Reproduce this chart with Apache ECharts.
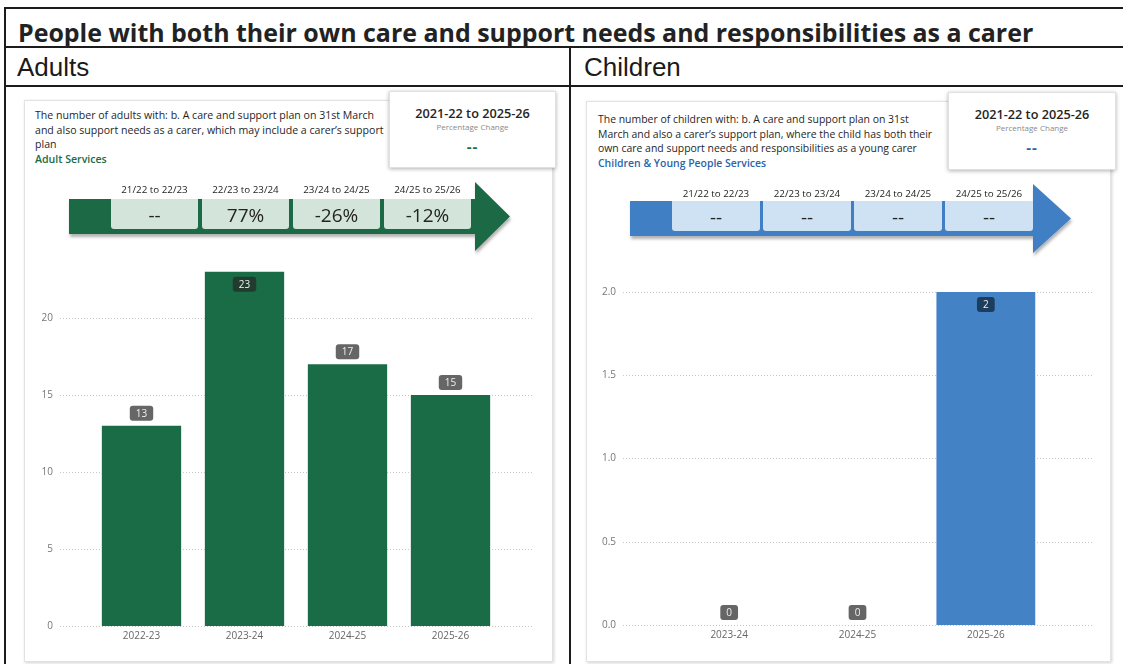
<!DOCTYPE html>
<html>
<head>
<meta charset="utf-8">
<script src="https://cdn.jsdelivr.net/npm/echarts@6/dist/echarts.min.js"></script>
<style>
  html, body { margin: 0; padding: 0; background: #fff; width: 1123px; height: 664px; overflow: hidden; }
  body { position: relative; font-family: 'Open Sans', 'Noto Sans', sans-serif; color: #252423; }
  .rule { position: absolute; background: #1c1c1c; }
  .title { position: absolute; left: 18px; top: 15px; font-weight: 700; font-size: 20px; white-space: nowrap; color: #222; font-family: 'Open Sans', sans-serif; }
  .colhead { position: absolute; top: 52px; font-family: 'Liberation Sans', Arial, sans-serif; font-size: 26px; color: #1a1a1a; white-space: nowrap; }
  .card { position: absolute; background: #fff; border: 1px solid #e2e2e2; box-shadow: 1px 1px 3px rgba(0,0,0,0.18); box-sizing: border-box; }
  .kpi { position: absolute; background: #fff; border: 1px solid #e0e0e0; box-shadow: 0 1px 4px rgba(0,0,0,0.3); box-sizing: border-box; text-align: center; }
  .kpi .k1 { position: absolute; left: 0; right: 0; top: 12px; font-size: 12.7px; font-weight: 600; color: #252423; }
  .kpi .k2 { position: absolute; left: 0; right: 0; top: 29px; font-size: 8px; color: #8a8a8a; }
  .kpi .k3 { position: absolute; left: 0; right: 0; top: 44px; font-size: 15px; font-weight: 700; letter-spacing: 1px; }
  .desc { position: absolute; font-size: 9.5px; line-height: 14.5px; color: #1f1f1f; white-space: nowrap; }
  .desc span { display: inline-block; }
  .desc .svc { font-weight: 600; }
  .chart { position: absolute; }
  svg.overlay { position: absolute; left: 0; top: 0; }
</style>
</head>
<body>

<div class="rule" style="left:4px; top:7px; width:1119px; height:2px;"></div>
<div class="rule" style="left:4px; top:46px; width:1119px; height:2px;"></div>
<div class="rule" style="left:4px; top:85px; width:1119px; height:2px;"></div>
<div class="rule" style="left:4px; top:7px; width:2px; height:657px;"></div>
<div class="rule" style="left:569px; top:46px; width:2px; height:618px;"></div>

<div class="title" id="title">People with both their own care and support needs and responsibilities as a carer</div>
<div class="colhead" style="left:17px;">Adults</div>
<div class="colhead" style="left:584px;">Children</div>

<div class="card" style="left:24px; top:100px; width:529px; height:562px;"></div>
<div class="card" style="left:586px; top:101px; width:525px; height:561px;"></div>

<div class="desc" id="descAdult" style="left:35px; top:108px;">
  <span>The number of adults with: b. A care and support plan on 31st March</span><br>
  <span>and also support needs as a carer, which may include a carer’s support</span><br>
  <span>plan</span><br>
  <span class="svc" style="color:#1b6b45;">Adult Services</span>
</div>
<div class="desc" id="descChild" style="left:598px; top:112px;">
  <span>The number of children with: b. A care and support plan on 31st</span><br>
  <span>March and also a carer’s support plan, where the child has both their</span><br>
  <span>own care and support needs and responsibilities as a young carer</span><br>
  <span class="svc" style="color:#2b62a8;">Children &amp; Young People Services</span>
</div>

<div class="kpi" style="left:389px; top:91px; width:167px; height:77px;">
  <div class="k1">2021-22 to 2025-26</div>
  <div class="k2">Percentage Change</div>
  <div class="k3" id="kpiAdult" style="color:#1b6b45;"></div>
</div>
<div class="kpi" style="left:948px; top:92px; width:168px; height:78px;">
  <div class="k1">2021-22 to 2025-26</div>
  <div class="k2">Percentage Change</div>
  <div class="k3" id="kpiChild" style="color:#2b62a8;"></div>
</div>

<div class="chart" id="chartAdult" style="left:24px; top:236px; width:528px; height:426px;"></div>
<div class="chart" id="chartChild" style="left:586px; top:280px; width:524px; height:382px;"></div>

<svg class="overlay" id="arrows" width="1123" height="664" xmlns="http://www.w3.org/2000/svg">
  <defs>
    <filter id="shadow" x="-5%" y="-20%" width="115%" height="160%">
      <feDropShadow dx="1" dy="3" stdDeviation="1.6" flood-color="#000" flood-opacity="0.3"/>
    </filter>
  </defs>
</svg>

<script>
// ---- data ----
const periodLabels = ['21/22 to 22/23', '22/23 to 23/24', '23/24 to 24/25', '24/25 to 25/26'];
const adultChanges = ['--', '77%', '-26%', '-12%'];
const childChanges = ['--', '--', '--', '--'];
const adultOverallChange = '--';
const childOverallChange = '--';

const adultCategories = ['2022-23', '2023-24', '2024-25', '2025-26'];
const adultValues = [13, 23, 17, 15];

const childCategories = ['2023-24', '2024-25', '2025-26'];
const childValues = [0, 0, 2];

// ---- KPI cards ----
document.getElementById('kpiAdult').textContent = adultOverallChange;
document.getElementById('kpiChild').textContent = childOverallChange;

// ---- period-on-period arrows ----
const SVGNS = 'http://www.w3.org/2000/svg';
function el(tag, attrs, parent) {
  const n = document.createElementNS(SVGNS, tag);
  for (const k in attrs) n.setAttribute(k, attrs[k]);
  parent.appendChild(n);
  return n;
}
function drawArrow(g, labels, values) {
  const svg = document.getElementById('arrows');
  const grp = el('g', {}, svg);
  const shape = [
    [g.x0, g.yTop], [g.bodyEnd, g.yTop], [g.bodyEnd, g.headTop], [g.tipX, g.tipY],
    [g.bodyEnd, g.headBot], [g.bodyEnd, g.yBot], [g.x0, g.yBot]
  ].map(p => p.join(',')).join(' ');
  el('polygon', { points: shape, fill: g.color, filter: 'url(#shadow)' }, grp);
  labels.forEach((lab, i) => {
    const x = g.firstBox + i * g.step;
    const r = 3, w = g.boxW, h = g.boxH, y = g.yTop;
    const d = `M${x},${y} H${x + w} V${y + h - r} Q${x + w},${y + h} ${x + w - r},${y + h} H${x + r} Q${x},${y + h} ${x},${y + h - r} Z`;
    el('path', { d: d, fill: g.boxFill }, grp);
    const t1 = el('text', { x: x + w / 2, y: g.labelY, 'text-anchor': 'middle', 'dominant-baseline': 'central',
      'font-size': 9.8, fill: '#252423', 'font-family': "'Open Sans', sans-serif" }, grp);
    t1.textContent = lab;
    const t2 = el('text', { x: x + w / 2, y: y + h / 2 + 1, 'text-anchor': 'middle', 'dominant-baseline': 'central',
      'font-size': 19, fill: '#252423', 'font-family': "'Open Sans', sans-serif" }, grp);
    t2.textContent = values[i];
  });
}
drawArrow({ x0: 69, bodyEnd: 475, yTop: 199, yBot: 234, headTop: 182, headBot: 251, tipX: 510, tipY: 216.5,
  firstBox: 111, step: 91, boxW: 87, boxH: 30, labelY: 189, color: '#1b6b45', boxFill: '#d3e4da' },
  periodLabels, adultChanges);
drawArrow({ x0: 630, bodyEnd: 1033, yTop: 201, yBot: 236, headTop: 184, headBot: 253, tipX: 1071, tipY: 218.5,
  firstBox: 672, step: 91, boxW: 88, boxH: 30, labelY: 193, color: '#3f7fc4', boxFill: '#cfe2f3' },
  periodLabels, childChanges);

// ---- bar charts ----
const FONT = "'Segoe UI', 'Open Sans', sans-serif";
function barOption(cfg) {
  const data = cfg.values.map(v => {
    // labels that would run past the top of the plot sit inside the bar instead
    const inside = v > cfg.yMax - cfg.headroom;
    return {
      value: v,
      label: inside
        ? { position: 'insideTop', backgroundColor: cfg.insideLabelBg }
        : { position: 'top' }
    };
  });
  return {
    animation: false,
    grid: [
      { left: cfg.wide[0], right: cfg.wide[1], top: cfg.top, bottom: cfg.bottom },
      { left: cfg.bars[0], right: cfg.bars[1], top: cfg.top, bottom: cfg.bottom }
    ],
    xAxis: [
      { gridIndex: 0, type: 'category', data: cfg.categories, show: false },
      { gridIndex: 1, type: 'category', data: cfg.categories,
        axisLine: { show: false }, axisTick: { show: false },
        axisLabel: { color: '#666', fontSize: 10, margin: 5, fontFamily: FONT } }
    ],
    yAxis: [
      { gridIndex: 0, type: 'value', min: 0, max: cfg.yMax, interval: cfg.interval,
        axisLine: { show: false }, axisTick: { show: false },
        axisLabel: { color: '#777', fontSize: 10, margin: 7, fontFamily: FONT,
          showMaxLabel: cfg.showMax, formatter: v => v.toFixed(cfg.decimals) },
        splitLine: { show: true, showMaxLine: cfg.showMax,
          lineStyle: { color: '#c6c6c6', width: 1, type: [1, 2] } } },
      { gridIndex: 1, type: 'value', min: 0, max: cfg.yMax, interval: cfg.interval, show: false,
        splitLine: { show: false } }
    ],
    series: [{
      type: 'bar', xAxisIndex: 1, yAxisIndex: 1, data: data, barWidth: '77%',
      itemStyle: { color: cfg.color },
      label: { show: true, distance: 5, fontSize: 10, fontFamily: FONT, color: '#f0f0f0',
        backgroundColor: '#666666', borderRadius: 3, padding: [3, 6, 2, 6] }
    }]
  };
}

const adultChart = echarts.init(document.getElementById('chartAdult'), null, { renderer: 'canvas' });
adultChart.setOption(barOption({
  categories: adultCategories, values: adultValues, color: '#1a6c47', insideLabelBg: '#213c2e',
  yMax: 25, interval: 5, headroom: 2.5, decimals: 0, showMax: false,
  top: 5, bottom: 36, wide: [36, 19], bars: [66, 50]
}));

const childChart = echarts.init(document.getElementById('chartChild'), null, { renderer: 'canvas' });
childChart.setOption(barOption({
  categories: childCategories, values: childValues, color: '#4482c6', insideLabelBg: '#1c3d5e',
  yMax: 2, interval: 0.5, headroom: 0.25, decimals: 1, showMax: true,
  top: 12, bottom: 37, wide: [37, 17], bars: [79, 60]
}));

// ---- text sizing ----
function fitFont(node, measured, target) {
  const fs = parseFloat(getComputedStyle(node).fontSize);
  const w = measured.getBoundingClientRect().width;
  if (w > 0) node.style.fontSize = (fs * target / w) + 'px';
}
function layoutText() {
  const title = document.getElementById('title');
  fitFont(title, title, 1015);
  const da = document.getElementById('descAdult');
  fitFont(da, da.querySelector('span'), 339);
  const dc = document.getElementById('descChild');
  fitFont(dc, dc.querySelector('span'), 311);
}
layoutText();
if (document.fonts && document.fonts.ready) document.fonts.ready.then(layoutText);
</script>
</body>
</html>
